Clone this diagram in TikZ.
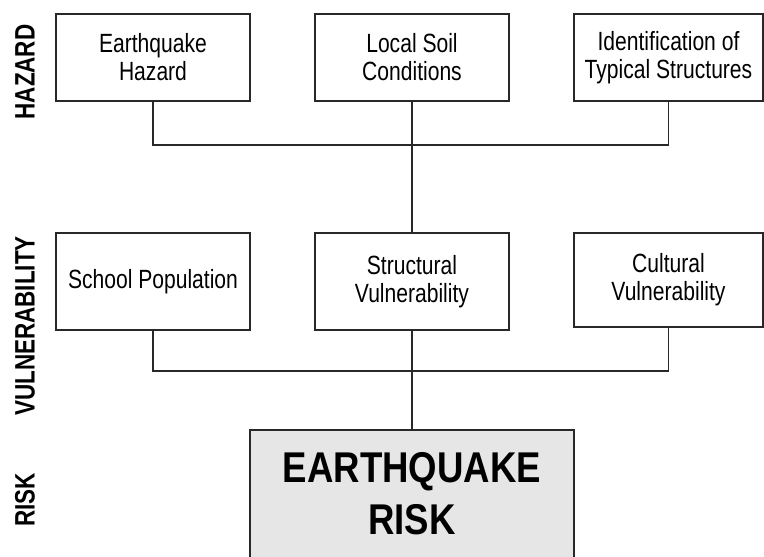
\documentclass[tikz,border=0pt]{standalone}
\usepackage{fontspec}
\setmainfont[FakeStretch=0.8]{Liberation Sans}
\newfontfamily\widefont[FakeStretch=0.85]{Liberation Sans}
\usetikzlibrary{positioning}
\definecolor{riskfill}{RGB}{230, 230, 230}
\definecolor{edge}{RGB}{40, 40, 40}

\begin{document}
\begin{tikzpicture}[x=0.02cm, y=-0.02cm,
        factor/.style={draw=edge, line width=0.6pt, minimum width=194*0.02cm, align=center,
            inner sep=0pt, font=\fontsize{15}{16}\selectfont},
        layer/.style={rotate=90, font=\fontsize{16}{18}\selectfont\bfseries},
        wire/.style={draw=edge, line width=0.6pt}]
        \useasboundingbox (0,0) rectangle (764,557);

        \node[layer] (hazard) at (25, 72)  {HAZARD};
        \node[layer] (vuln)   at (25, 326) {VULNERABILITY};
        \node[layer] (risk)   at (25, 500) {RISK};

        \node[factor, minimum height=87*0.02cm] (eqh) at (153, 57.5) {Earthquake\\Hazard};
        \node[factor, minimum height=87*0.02cm] (lsc) at (412, 57.5) {Local Soil\\Conditions};
        \node[factor, minimum height=87*0.02cm, minimum width=189*0.02cm] (its) at (668.5, 57.5) {Identification of\\Typical Structures};

        \node[factor, minimum height=97*0.02cm] (spop) at (153, 281.5) {School Population};
        \node[factor, minimum height=97*0.02cm] (svul) at (412, 281.5) {Structural\\Vulnerability};
        \node[factor, minimum height=94*0.02cm, minimum width=189*0.02cm] (cvul) at (668.5, 280) {Cultural\\Vulnerability};

        \node[factor, fill=riskfill, minimum width=324*0.02cm, minimum height=128*0.02cm,
            font=\widefont\fontsize{24.5}{29.5}\selectfont\bfseries] (eqrisk) at (412, 494) {EARTHQUAKE\\RISK};

        \coordinate (hbus) at (412, 145);
        \coordinate (vbus) at (412, 371);
        \draw[wire] (eqh.south) |- (hbus) -| (its.south);
        \draw[wire] (lsc.south) -- (svul.north);
        \draw[wire] (spop.south) |- (vbus) -| (cvul.south);
        \draw[wire] (svul.south) -- (eqrisk.north);
    \end{tikzpicture}
\end{document}
